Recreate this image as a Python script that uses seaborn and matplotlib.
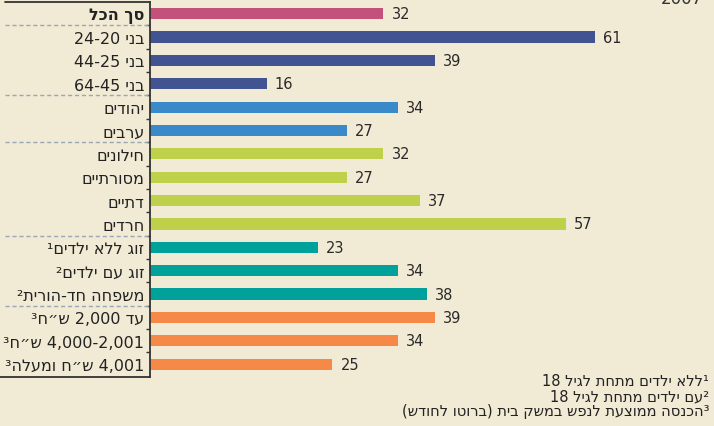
import re
import pandas as pd
import seaborn as sns
import matplotlib.pyplot as plt


def heb(s):
    # matplotlib has no bidi: reverse the string, then put numbers and brackets back
    r = s[::-1]
    r = re.sub(r'[0-9,]+', lambda m: m.group(0)[::-1], r)
    return r.translate(str.maketrans('()', ')('))


labels = ['סך הכל', 'בני 20-24', 'בני 25-44', 'בני 45-64', 'יהודים', 'ערבים',
          'חילונים', 'מסורתיים', 'דתיים', 'חרדים',
          'זוג ללא ילדים¹', 'זוג עם ילדים²', 'משפחה חד-הורית²',
          'עד 2,000 ש״ח³', '2,001-4,000 ש״ח³', '4,001 ש״ח ומעלה³']
values = [32, 61, 39, 16, 34, 27, 32, 27, 37, 57, 23, 34, 38, 39, 34, 25]
groups = ['total', 'age', 'age', 'age', 'pop', 'pop', 'rel', 'rel', 'rel', 'rel',
          'fam', 'fam', 'fam', 'inc', 'inc', 'inc']
group_colors = {'total': '#C2527A', 'age': '#415390', 'pop': '#3A8ACA',
                'rel': '#BFD04A', 'fam': '#00A19B', 'inc': '#F68947'}
footnotes = ['¹ללא ילדים מתחת לגיל 18', '²עם ילדים מתחת לגיל 18',
             '³הכנסה ממוצעת לנפש במשק בית (ברוטו לחודש)']

bg = '#F1EAD4'
sns.set_theme(style='white')
plt.rcParams['font.family'] = ['DejaVu Sans']

df = pd.DataFrame({'label': [heb(l) for l in labels], 'value': values, 'group': groups})

fig = plt.figure(figsize=(7.14, 4.27), dpi=100, facecolor=bg)
ax = fig.add_axes([150 / 714, 1 - 378 / 427, 1 - 150 / 714, 375 / 427])
ax.set_facecolor(bg)

sns.barplot(ax=ax, data=df, y='label', x='value', hue='group', palette=group_colors,
            dodge=False, width=0.48, legend=False, saturation=1, order=df['label'],
            linewidth=0)

ax.set_xlim(0, 77.3)
ax.set_ylim(15.55, -0.5)
ax.set(xlabel=None, ylabel=None)
ax.set_xticks([])

for i, v in enumerate(values):
    ax.text(v + 1.1, i, str(v), va='center', ha='left', fontsize=10.5, color='#2a2a2a')

for sp in ['top', 'right', 'bottom']:
    ax.spines[sp].set_visible(False)
ax.spines['left'].set_color('#333333')
ax.spines['left'].set_linewidth(1.3)

ax.tick_params(axis='y', which='major', length=0, pad=4, labelsize=11.5, labelcolor='#222222')
ax.set_yticks([i + 0.5 for i in range(15)], minor=True)
ax.tick_params(axis='y', which='minor', left=True, length=3, width=1, color='#333333')
ax.get_yticklabels()[0].set_fontweight('bold')

# box lines around the label column and dashed group separators
ax.plot([-0.257, 0], [1.0, 1.0], transform=ax.transAxes, color='#333333', lw=1.3, clip_on=False)
ax.plot([-0.266, 0], [0, 0], transform=ax.transAxes, color='#333333', lw=1.3, clip_on=False)
trans = ax.get_yaxis_transform()
for b in [0.5, 3.5, 5.5, 9.5, 12.5]:
    ax.plot([-0.257, 0], [b, b], transform=trans, color='#9AA7B6', lw=1, ls=(0, (3, 2)), clip_on=False)

for k, t in enumerate(footnotes):
    fig.text(0.993, 1 - (382 + 15 * k) / 427, heb(t), ha='right', va='center',
             fontsize=10.5, color='#222222')

fig.text(0.955, 1.003, '2007', ha='center', va='center', fontsize=12, color='#333333')

fig.savefig('out.png', dpi=100, facecolor=bg)
